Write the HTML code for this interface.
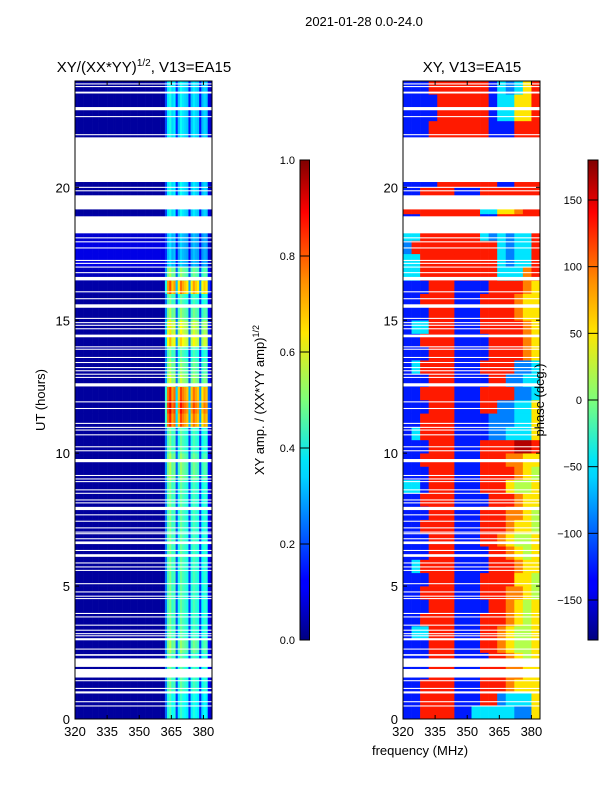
<!DOCTYPE html>
<html><head><meta charset="utf-8"><style>
body{margin:0;background:#fff;}
svg{display:block;font-family:"Liberation Sans","DejaVu Sans",sans-serif;}
</style></head><body>
<svg id="fig" width="600" height="800" viewBox="0 0 600 800">
<defs>
<linearGradient id="jet" x1="0" y1="1" x2="0" y2="0">
<stop offset="0" stop-color="#000080"/><stop offset="0.11" stop-color="#0000ff"/><stop offset="0.125" stop-color="#0000ff"/>
<stop offset="0.34" stop-color="#00d4ff"/><stop offset="0.375" stop-color="#00e5f8"/><stop offset="0.5" stop-color="#7dff7a"/>
<stop offset="0.64" stop-color="#ffe600"/><stop offset="0.75" stop-color="#ff8c00"/><stop offset="0.89" stop-color="#ff0000"/><stop offset="1" stop-color="#800000"/>
</linearGradient>
</defs>
<text x="364" y="26" font-size="13" text-anchor="middle">2021-01-28 0.0-24.0</text>
<text x="144" y="72" font-size="15" text-anchor="middle">XY/(XX*YY)<tspan font-size="10" dy="-6">1/2</tspan><tspan dy="6">, V13=EA15</tspan></text>
<text x="472" y="72" font-size="15" text-anchor="middle">XY, V13=EA15</text>
<g id="ampPanel"></g>
<g id="phPanel"></g>
<g id="axes"></g>
<text transform="translate(45,400) rotate(-90)" font-size="13" text-anchor="middle">UT (hours)</text>
<text x="420" y="755" font-size="13" text-anchor="middle">frequency (MHz)</text>
<rect x="300" y="160" width="9.5" height="480" fill="url(#jet)" stroke="#000" stroke-width="1"/>
<rect x="588" y="160" width="10" height="480" fill="url(#jet)" stroke="#000" stroke-width="1"/>
<text transform="translate(264,400) rotate(-90)" font-size="13" text-anchor="middle">XY amp. / (XX*YY amp)<tspan font-size="9" dy="-5">1/2</tspan></text>
<text transform="translate(544,400) rotate(-90)" font-size="13" text-anchor="middle">phase (deg.)</text>
<g id="cb"></g>
</svg>
<script>
// ---- data ----
var yTicks=[0,5,10,15,20];
var xTicks=[320,335,350,365,380];
var ampCbTicks=[0.0,0.2,0.4,0.6,0.8,1.0];
var phCbTicks=[-150,-100,-50,0,50,100,150];
// amplitude column profile, 1 MHz bins from 320 to 383
var ampColProfile=[0.03,0.03,0.03,0.03,0.03,0.03,0.03,0.03,0.03,0.03,0.03,0.03,0.03,0.03,0.03,0.03,
0.03,0.03,0.03,0.03,0.03,0.03,0.03,0.03,0.03,0.03,0.03,0.03,0.03,0.03,0.03,0.03,
0.03,0.03,0.03,0.03,0.03,0.03,0.03,0.03,0.03,0.03,0.25,0.45,0.5,0.42,0.45,0.2,
0.4,0.48,0.44,0.42,0.4,0.18,0.4,0.45,0.42,0.4,0.17,0.38,0.42,0.4,0.12,0.08];
// row scale for bright channels, 0.5 h bins from 0 h
var ampRowScale=[0.9,0.9,1,1,1,1.1,1,1,1,1,1,1,1,1,1,1,1,1,1.1,1.1,1,1,1.7,1.8,1.7,1.2,1.1,1,1.4,1.3,1.1,1,1.6,1.1,0.7,0.7,0.7,0.8,0.8,0.8,0.8,0.8,0.8,0.8,0.8,0.8,0.8,0.8];
var ampRowBase=[0.03,0.03,0.03,0.03,0.03,0.03,0.03,0.03,0.03,0.03,0.03,0.03,0.03,0.03,0.03,0.03,0.03,0.03,0.03,0.03,0.03,0.03,0.03,0.03,0.03,0.03,0.03,0.03,0.03,0.03,0.03,0.03,0.04,0.06,0.1,0.1,0.08,0.04,0.03,0.03,0.03,0.03,0.03,0.03,0.03,0.03,0.03,0.03];
// phase codes per 0.5 h row, 16 cols of 4 MHz; code d -> -162+36*d deg
var phaseRows=["1188881133333226","1188881118823336","1188881118887666","1118881118887766",
"1118881111887656","1118881118876556","1338881118876556","1188881118887656",
"1118881111887656","1188881118887765","1118881118888665","1388881111888766",
"1118881111887656","1118881118876556","1188881118887665","1118881118887765",
"1188881111888766","3318881118886556","1118881118888765","1188881118887766",
"1118881118888998","1388881111223336","1188881111222336","1118881118822336",
"1188881118888223","1118881111882233","1388881118888223","1118881111888876",
"1188881111888876","1338881118888876","1118881118888766","1188881118888766",
"1118881111888876","3388888888833378","3388888888832338","2888888888832338",
"3388888883232338","1188888881188888","8888888883366788","1188881118888888",
"1111888888811888","1118888888111888","1118888888111888","1118888888111888",
"1118888888111888","1111888888133668","1111888888133668","1118888888132368"];
// flagged (blank) time intervals in hours
var maskStart=[0.47,0.63,0.96,1.13,1.42,1.56,1.96,2.38,2.61,2.96,3.11,3.19,3.32,3.51,3.82,3.95,4.51,4.6,4.76,5.07,5.57,5.7,5.85,6.1,6.32,6.58,6.76,6.95,7.01,7.17,7.42,7.66,7.86,8.11,8.22,8.47,8.6,8.91,9.01,9.14,9.66,10.07,10.22,10.67,10.85,10.95,11.1,11.66,11.91,12.51,12.83,12.95,13.08,13.2,13.39,13.58,13.89,13.98,14.36,14.66,14.79,14.89,15.05,15.47,15.79,16.05,16.5,16.77,16.98,17.12,17.23,17.7,17.93,18.08,18.27,19.17,19.85,19.98,20.2,21.96,22.64,22.9,23.53,23.77,23.87];
var maskEnd=[0.51,0.67,1.04,1.17,1.46,1.88,2.28,2.44,2.65,3.04,3.15,3.23,3.36,3.55,3.86,3.99,4.55,4.64,4.8,5.11,5.61,5.74,5.89,6.2,6.36,6.68,6.8,6.99,7.05,7.21,7.46,7.7,7.98,8.15,8.26,8.51,8.64,8.95,9.05,9.18,9.78,10.11,10.26,10.71,10.89,10.99,11.14,11.7,11.95,12.63,12.87,12.99,13.12,13.24,13.43,13.62,13.93,14.02,14.46,14.7,14.83,14.93,15.09,15.6,15.83,16.09,16.63,16.81,17.02,17.16,17.27,17.74,17.97,18.12,18.91,19.7,19.89,20.02,21.88,22.0,22.68,23.02,23.6,23.81,23.91];
// ---- helpers ----
var NS="http://www.w3.org/2000/svg";
var X0A=75,X0P=403,W=137,YB=719,YT=81,FMIN=320,FMAX=384,HMAX=24;
function xs(f,x0){return x0+(f-FMIN)*W/(FMAX-FMIN);}
function ys(h){return YB-h*(YB-YT)/HMAX;}
function cl(v){return Math.max(0,Math.min(1,v));}
function jet(v){v=cl(v);var r=cl(1.5-Math.abs(4*v-3)),g=cl(1.5-Math.abs(4*v-2)),b=cl(1.5-Math.abs(4*v-1));
return "rgb("+Math.round(r*255)+","+Math.round(g*255)+","+Math.round(b*255)+")";}
function mk(tag,at,parent){var e=document.createElementNS(NS,tag);for(var k in at)e.setAttribute(k,at[k]);parent.appendChild(e);return e;}
var ampG=document.getElementById('ampPanel'),phG=document.getElementById('phPanel'),ax=document.getElementById('axes'),cb=document.getElementById('cb');
for(var r=0;r<ampRowScale.length;r++){
 for(var c=0;c<ampColProfile.length;c++){
  var p=ampColProfile[c];
  var v=p>0.05?p*ampRowScale[r]:ampRowBase[r];
  var f0=FMIN+c,f1=f0+1;
  var e=mk('rect',{x:xs(f0,X0A),y:ys(r*0.5+0.5),width:xs(f1,X0A)-xs(f0,X0A)+0.3,height:ys(r*0.5)-ys(r*0.5+0.5)+0.3,fill:jet(v)},ampG);
  
  
 }
}
for(var r=0;r<phaseRows.length;r++){
 for(var c=0;c<16;c++){
  var d=+phaseRows[r][c];var ph=-162+36*d;
  var f0=FMIN+4*c,f1=f0+4;
  var e=mk('rect',{x:xs(f0,X0P),y:ys(r*0.5+0.5),width:xs(f1,X0P)-xs(f0,X0P)+0.3,height:ys(r*0.5)-ys(r*0.5+0.5)+0.3,fill:jet((ph+180)/360)},phG);
  
  
 }
}
[X0A,X0P].forEach(function(x0){
 for(var i=0;i<maskStart.length;i++){
  var e=mk('rect',{x:x0,y:ys(maskEnd[i]),width:W,height:ys(maskStart[i])-ys(maskEnd[i]),fill:'#fff'},ax);
  
  
 }
});
[X0A,X0P].forEach(function(x0,pi){
 var fr=mk('rect',{x:x0,y:YT,width:W,height:YB-YT,fill:'none',stroke:'#000','stroke-width':1},ax);
 
 
 xTicks.forEach(function(t){var x=xs(t,x0);
  mk('line',{x1:x,x2:x,y1:YB,y2:YB-4,stroke:'#000'},ax);mk('line',{x1:x,x2:x,y1:YT,y2:YT+4,stroke:'#000'},ax);
  var tx=mk('text',{x:x,y:736,'font-size':13,'text-anchor':'middle'},ax);tx.textContent=t;
  
  
 });
 yTicks.forEach(function(t){var y=ys(t);
  mk('line',{x1:x0,x2:x0+4,y1:y,y2:y,stroke:'#000'},ax);mk('line',{x1:x0+W,x2:x0+W-4,y1:y,y2:y,stroke:'#000'},ax);
  var tx=mk('text',{x:x0-5,y:y+5,'font-size':13,'text-anchor':'end'},ax);tx.textContent=t;
  
  
 });
});
ampCbTicks.forEach(function(t){var y=640-t*480;
 mk('line',{x1:300,x2:309.5,y1:y,y2:y,stroke:'#000'},cb);
 var tx=mk('text',{x:295,y:y+4,'font-size':11,'text-anchor':'end'},cb);tx.textContent=t.toFixed(1);
 
 
});
phCbTicks.forEach(function(t){var y=640-(t+180)/360*480;
 mk('line',{x1:588,x2:598,y1:y,y2:y,stroke:'#000'},cb);
 var tx=mk('text',{x:582,y:y+4,'font-size':11,'text-anchor':'end'},cb);tx.textContent=t<0?'\u2212'+(-t):t;
 
 
});
</script>
</body></html>
